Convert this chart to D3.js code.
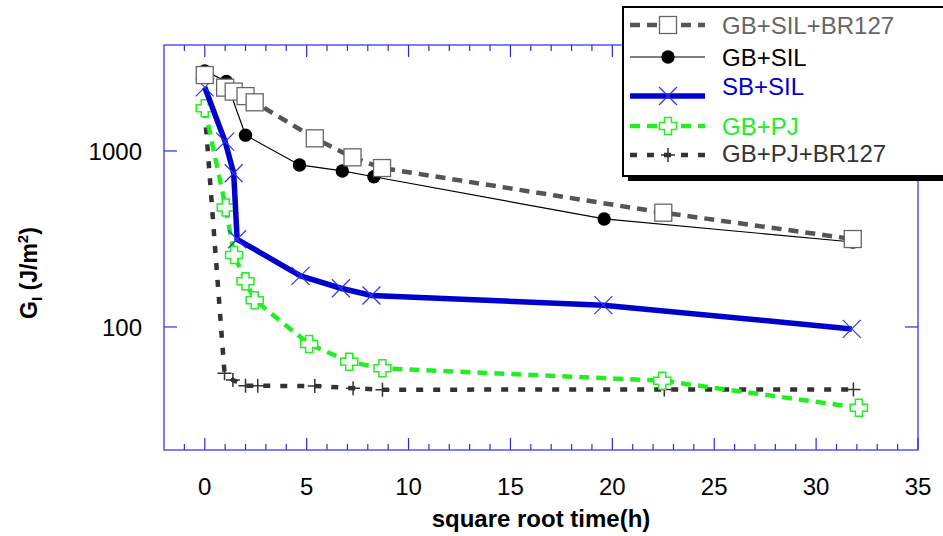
<!DOCTYPE html>
<html>
<head>
<meta charset="utf-8">
<script src="https://cdn.jsdelivr.net/npm/d3@7"></script>
<style>
  body { margin: 0; background: #fff; }
  svg { display: block; font-family: "Liberation Sans", Arial, sans-serif; }
</style>
</head>
<body>
<div id="chart"></div>
<script>
// series values (x = square root time, y = G_I)
const xSilBr = [0, 1.0, 1.42, 2.0, 2.45, 5.4, 7.25, 8.7, 22.5, 31.8];
const ySilBr = [2700, 2290, 2175, 2050, 1890, 1180, 920, 800, 446, 316];

const xSil = [0, 1.06, 2.0, 4.65, 6.75, 8.3, 19.6, 31.8];
const ySil = [2850, 2480, 1230, 833, 770, 714, 411, 304];

const xSb = [0, 1.0, 1.42, 1.59, 4.7, 6.68, 8.18, 19.56, 31.75];
const ySb = [2300, 1130, 747, 315, 195, 166, 151, 133, 97.5];

const xPj = [0, 1.03, 1.44, 2.0, 2.45, 5.12, 7.09, 8.72, 22.45, 32.1];
const yPj = [1750, 477, 256, 182, 142, 80, 63.5, 58.2, 49.5, 34.8];

const xPjBr = [0, 0.97, 1.38, 2.0, 2.6, 5.4, 7.28, 8.72, 22.55, 31.83];
const yPjBr = [1700, 54.6, 50, 46.3, 46.3, 46.2, 44.9, 44, 44.2, 44.2];

const seriesNames = ["GB+SIL+BR127", "GB+SIL", "SB+SIL", "GB+PJ", "GB+PJ+BR127"];
const xTickLabels = [0, 5, 10, 15, 20, 25, 30, 35];
const yTickLabels = [100, 1000];

const W = 943, H = 536;
const margin = { top: 45, right: 25, bottom: 86, left: 164 };
const width = W - margin.left - margin.right;
const height = H - margin.top - margin.bottom;

const svg = d3.select("#chart").append("svg")
    .attr("width", W)
    .attr("height", H);

const g = svg.append("g")
    .attr("transform", `translate(${margin.left},${margin.top})`);

const x = d3.scaleLinear().domain([-2, 35]).range([0, width]);
const y = d3.scaleLog().domain([20, 4000]).range([height, 0]);

const frameColor = "#2a2aee";

// frame
g.append("rect")
    .attr("width", width).attr("height", height)
    .attr("fill", "none").attr("stroke", frameColor).attr("stroke-width", 1.2);

// x ticks (inward, on bottom and top)
const minorX = d3.range(-1, 35, 1).filter(v => v % 5 !== 0);
const tickG = g.append("g").attr("stroke", frameColor).attr("stroke-width", 1.2);
[[height, -1], [0, 1]].forEach(([y0, dir]) => {
    tickG.selectAll(null).data(xTickLabels).join("line")
        .attr("x1", d => x(d)).attr("x2", d => x(d))
        .attr("y1", y0).attr("y2", y0 + dir * 12);
    tickG.selectAll(null).data(minorX).join("line")
        .attr("x1", d => x(d)).attr("x2", d => x(d))
        .attr("y1", y0).attr("y2", y0 + dir * 6);
});
// y ticks (inward, left and right)
[[0, 1], [width, -1]].forEach(([x0, dir]) => {
    tickG.selectAll(null).data(yTickLabels).join("line")
        .attr("y1", d => y(d)).attr("y2", d => y(d))
        .attr("x1", x0).attr("x2", x0 + dir * 13);
});

// tick labels
g.append("g").selectAll("text").data(xTickLabels).join("text")
    .attr("x", d => x(d)).attr("y", height + 45)
    .attr("text-anchor", "middle")
    .attr("font-size", 24)
    .text(d => d);

g.append("g").selectAll("text").data(yTickLabels).join("text")
    .attr("x", -22).attr("y", d => y(d))
    .attr("dy", "0.36em")
    .attr("text-anchor", "end")
    .attr("font-size", 24)
    .text(d => d);

// axis titles
svg.append("text")
    .attr("x", margin.left + width / 2).attr("y", 527)
    .attr("text-anchor", "middle")
    .attr("font-size", 24).attr("font-weight", "bold")
    .text("square root time(h)");

const yl = svg.append("text")
    .attr("transform", "translate(37,273) rotate(-90)")
    .attr("text-anchor", "middle")
    .attr("font-size", 23).attr("font-weight", "bold");
yl.append("tspan").text("G");
yl.append("tspan").attr("font-size", 15).attr("dy", 5).text("I");
yl.append("tspan").attr("dy", -5).text(" (J/m");
yl.append("tspan").attr("font-size", 15).attr("dy", -9).text("2");
yl.append("tspan").attr("dy", 9).text(")");

// marker painters
const markers = {
    square: sel => sel.append("rect")
        .attr("x", -8.5).attr("y", -8.5).attr("width", 17).attr("height", 17)
        .attr("fill", "#fff").attr("stroke", "#666").attr("stroke-width", 1.3),
    circle: sel => sel.append("circle").attr("r", 6.7).attr("fill", "#000"),
    cross: sel => sel.append("path")
        .attr("d", "M-9,-9L9,9M-9,9L9,-9")
        .attr("stroke", "#3333ee").attr("stroke-width", 1.2).attr("fill", "none"),
    openPlus: sel => sel.append("path")
        .attr("d", "M-3.5,-8.5H3.5V-3.5H8.5V3.5H3.5V8.5H-3.5V3.5H-8.5V-3.5H-3.5Z")
        .attr("fill", "#fff").attr("stroke", "#22ee22").attr("stroke-width", 1.5),
    plus: sel => sel.append("path")
        .attr("d", "M-7,0H7M0,-7V7")
        .attr("stroke", "#333").attr("stroke-width", 1.5).attr("fill", "none")
};

const series = [
    { name: seriesNames[0], xs: xSilBr, ys: ySilBr, color: "#555", text: "#666", width: 4.5, dash: "10,7", marker: "square" },
    { name: seriesNames[1], xs: xSil, ys: ySil, color: "#000", text: "#000", width: 1.2, dash: null, marker: "circle" },
    { name: seriesNames[2], xs: xSb, ys: ySb, color: "#0000cc", text: "#0000cc", width: 5.5, dash: null, marker: "cross" },
    { name: seriesNames[3], xs: xPj, ys: yPj, color: "#22ee22", text: "#22ee22", width: 4.5, dash: "10,7", marker: "openPlus" },
    { name: seriesNames[4], xs: xPjBr, ys: yPjBr, color: "#333", text: "#333", width: 4.5, dash: "7,10", marker: "plus" }
];

const line = d3.line().x(d => x(d[0])).y(d => y(d[1]));

// draw from last to first so the first series sits on top
series.slice().reverse().forEach(s => {
    const pts = s.xs.map((v, i) => [v, s.ys[i]]);
    const sg = g.append("g");
    sg.append("path")
        .datum(pts)
        .attr("d", line)
        .attr("fill", "none")
        .attr("stroke", s.color)
        .attr("stroke-width", s.width)
        .attr("stroke-dasharray", s.dash);
    sg.selectAll("g.m").data(pts).join("g")
        .attr("class", "m")
        .attr("transform", d => `translate(${x(d[0])},${y(d[1])})`)
        .each(function() { markers[s.marker](d3.select(this)); });
});

// legend
const lg = svg.append("g").attr("transform", "translate(623,7)");
lg.append("rect").attr("x", 5).attr("y", 5).attr("width", 330).attr("height", 169).attr("fill", "#000");
lg.append("rect").attr("width", 330).attr("height", 169)
    .attr("fill", "#fff").attr("stroke", "#000").attr("stroke-width", 2);

const rowY = [18, 50, 89, 119, 148];
const textDy = [9, 9, -1, 9, 7];
series.forEach((s, i) => {
    const row = lg.append("g").attr("transform", `translate(0,${rowY[i]})`);
    row.append("line")
        .attr("x1", 7).attr("x2", 82)
        .attr("stroke", s.color)
        .attr("stroke-width", s.width)
        .attr("stroke-dasharray", s.dash);
    markers[s.marker](row.append("g").attr("transform", "translate(45,0)"));
    row.append("text")
        .attr("x", 99).attr("y", textDy[i])
        .attr("font-size", 24)
        .attr("fill", s.text)
        .text(s.name);
});
</script>
</body>
</html>
